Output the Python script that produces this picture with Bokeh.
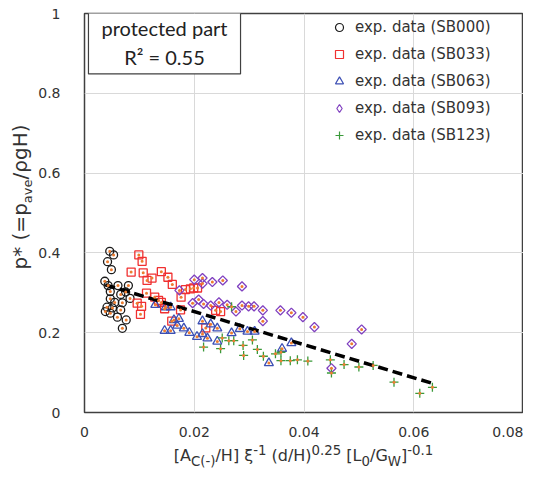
import numpy as np
from bokeh.plotting import figure
from bokeh.models import Range1d, Label, Legend, LegendItem, Div, FixedTicker
from bokeh.layouts import row, column
from bokeh.embed import file_html
from bokeh.resources import INLINE

# ---------------- data ----------------
sb000_x = [0.0046, 0.0053, 0.0042, 0.0049, 0.0037, 0.0043, 0.0061, 0.0080, 0.0047, 0.0066, 0.0075, 0.0083,
           0.0047, 0.0055, 0.0069, 0.0041, 0.0051, 0.0066, 0.0038, 0.0047, 0.0060, 0.0076, 0.0069]
sb000_y = [0.404, 0.395, 0.378, 0.358, 0.329, 0.318, 0.318, 0.318, 0.303, 0.296, 0.302, 0.286,
           0.285, 0.276, 0.275, 0.264, 0.262, 0.257, 0.253, 0.249, 0.239, 0.232, 0.211]

sb033_x = [0.0099, 0.0105, 0.0085, 0.0107, 0.0114, 0.0123, 0.0140, 0.0152, 0.0160, 0.0113, 0.0128, 0.0176,
           0.0184, 0.0193, 0.0199, 0.0206, 0.0096, 0.0104, 0.0102, 0.0135, 0.0146, 0.0175, 0.0159, 0.0221,
           0.0239, 0.0248, 0.0140]
sb033_y = [0.395, 0.379, 0.352, 0.350, 0.331, 0.337, 0.353, 0.339, 0.321, 0.299, 0.289, 0.289,
           0.308, 0.310, 0.312, 0.312, 0.274, 0.266, 0.246, 0.281, 0.260, 0.257, 0.229, 0.212,
           0.256, 0.253, 0.276]

sb063_x = [0.0129, 0.0148, 0.0157, 0.0163, 0.0172, 0.0146, 0.0157, 0.0169, 0.0181, 0.0191, 0.0215, 0.0230,
           0.0205, 0.0215, 0.0224, 0.0242, 0.0242, 0.0268, 0.0283, 0.0297, 0.0310, 0.0336, 0.0360, 0.0377]
sb063_y = [0.270, 0.264, 0.264, 0.232, 0.235, 0.205, 0.205, 0.218, 0.211, 0.200, 0.229, 0.221,
           0.190, 0.197, 0.186, 0.211, 0.178, 0.199, 0.210, 0.203, 0.203, 0.124, 0.160, 0.174]

sb093_x = [0.0173, 0.0200, 0.0215, 0.0215, 0.0233, 0.0252, 0.0287, 0.0197, 0.0208, 0.0217, 0.0230, 0.0245,
           0.0260, 0.0276, 0.0287, 0.0299, 0.0309, 0.0325, 0.0325, 0.0357, 0.0377, 0.0398, 0.0419, 0.0505,
           0.0487, 0.0450]
sb093_y = [0.306, 0.333, 0.337, 0.323, 0.327, 0.331, 0.316, 0.274, 0.283, 0.272, 0.268, 0.276,
           0.270, 0.253, 0.268, 0.266, 0.266, 0.256, 0.229, 0.256, 0.250, 0.239, 0.214, 0.208,
           0.172, 0.111]

sb123_x = [0.0268, 0.0251, 0.0263, 0.0272, 0.0217, 0.0248, 0.0289, 0.0306, 0.0290, 0.0315, 0.0326, 0.0348,
           0.0358, 0.0358, 0.0375, 0.0388, 0.0407, 0.0448, 0.0473, 0.0500, 0.0526, 0.0450, 0.0564, 0.0611,
           0.0634]
sb123_y = [0.265, 0.187, 0.180, 0.180, 0.164, 0.160, 0.168, 0.182, 0.143, 0.158, 0.141, 0.147,
           0.151, 0.130, 0.130, 0.132, 0.129, 0.132, 0.120, 0.114, 0.118, 0.099, 0.076, 0.048,
           0.063]

fit_x = [0.0038, 0.0634]
fit_y = [0.320, 0.073]

series_labels = ["exp. data (SB000)", "exp. data (SB033)", "exp. data (SB063)",
                 "exp. data (SB093)", "exp. data (SB123)"]
x_ticks = [0, 0.02, 0.04, 0.06, 0.08]
x_tick_labels = ["0", "0.02", "0.04", "0.06", "0.08"]
y_ticks = [0, 0.2, 0.4, 0.6, 0.8, 1.0]
y_tick_labels = ["0", "0.2", "0.4", "0.6", "0.8", "1"]
annotation_text = "protected part\nR² = 0.55"

# ---------------- figure ----------------
FONT = "DejaVu Sans"
TXT = "#333333"

p = figure(width=489, height=446, x_range=Range1d(0, 0.08), y_range=Range1d(0, 1),
           output_backend="svg", toolbar_location=None,
           min_border_left=50, min_border_right=0, min_border_top=13, min_border_bottom=34)
p.background_fill_color = "white"
p.border_fill_color = "white"
p.outline_line_color = "#404040"
p.outline_line_width = 1.5

for ax, ticks, labels in ((p.xaxis[0], x_ticks, x_tick_labels), (p.yaxis[0], y_ticks, y_tick_labels)):
    ax.ticker = FixedTicker(ticks=ticks)
    ax.major_label_overrides = {t: l for t, l in zip(ticks, labels)}
    ax.axis_line_color = None
    ax.major_tick_line_color = None
    ax.minor_tick_line_color = None
    ax.major_tick_out = 0
    ax.major_tick_in = 0
    ax.major_label_text_font = FONT
    ax.major_label_text_font_size = "14px"
    ax.major_label_text_color = TXT
p.xaxis.major_label_standoff = 14
p.yaxis.major_label_standoff = 24

p.xgrid.ticker = FixedTicker(ticks=x_ticks)
p.ygrid.ticker = FixedTicker(ticks=y_ticks)
p.grid.grid_line_color = "#d9d9d9"
p.grid.grid_line_width = 1

styles = [
    dict(marker="circle", color="#1a1a1a", size=8, angle=0.0, lmarker="circle", lsize=6),
    dict(marker="square", color="#f03030", size=8, angle=0.0, lmarker="square", lsize=6),
    dict(marker="triangle", color="#3c4fb4", size=9, angle=0.0, lmarker="triangle", lsize=7),
    dict(marker="square", color="#8040c0", size=6.5, angle=np.pi / 4, lmarker="diamond", lsize=8),
    dict(marker="cross", color="#3a9a3a", size=9, angle=0.0, lmarker="cross", lsize=7),
]
xs = [sb000_x, sb033_x, sb063_x, sb093_x, sb123_x]
ys = [sb000_y, sb033_y, sb063_y, sb093_y, sb123_y]

for x, y, st in zip(xs, ys, styles):
    p.scatter(x, y, marker=st["marker"], size=st["size"], angle=st["angle"],
              line_color=st["color"], fill_color=None, line_width=1.3)

p.line(fit_x, fit_y, line_color="black", line_width=3.5, line_dash="10 5")

all_x = sum(xs, [])
all_y = sum(ys, [])
p.scatter(all_x, all_y, marker="circle", size=3, line_color=None, fill_color="#ed7d31")

items = []
for lab, st in zip(series_labels, styles):
    r = p.scatter(x=[np.nan], y=[np.nan], marker=st["lmarker"], size=st["lsize"],
                  line_color=st["color"], fill_color=None, line_width=1.2)
    items.append(LegendItem(label=lab, renderers=[r]))

legend = Legend(items=items, location=(245, 267))
legend.background_fill_alpha = 0
legend.border_line_alpha = 0
legend.padding = 0
legend.margin = 0
legend.spacing = 7
legend.glyph_width = 20
legend.glyph_height = 20
legend.label_height = 20
legend.label_standoff = 6
legend.label_text_font = FONT
legend.label_text_font_size = "15px"
legend.label_text_color = TXT
p.add_layout(legend)

lbl = Label(x=80, y=370, x_units="screen", y_units="screen", text=annotation_text,
            text_align="center", text_baseline="middle", text_font="Lato",
            text_font_size="20px", text_color="#222222",
            border_line_color="#404040", border_line_width=1.2,
            background_fill_color="white", padding=(13, 5))
p.add_layout(lbl)

ydiv = Div(width=34, height=446, margin=0,
           text=("<div style=\"position:relative;width:34px;height:446px;\">"
                 "<div style=\"position:absolute;left:22px;top:197px;transform:translate(-50%,-50%) rotate(-90deg);"
                 "font-family:'DejaVu Sans';font-size:20px;color:#333;white-space:nowrap;\">"
                 "p* (=p<sub style=\"font-size:65%\">ave</sub>/ρgH)</div></div>"))
xdiv = Div(width=489, height=26, margin=0,
           text=("<div style=\"margin-left:50px;margin-top:-5px;width:439px;text-align:center;font-family:'DejaVu Sans';"
                 "font-size:16px;color:#333;white-space:nowrap;\">"
                 "[A<sub>C(-)</sub>/H] ξ<sup>-1</sup> (d/H)<sup>0.25</sup> [L<sub>0</sub>/G<sub>W</sub>]<sup>-0.1</sup></div>"))

layout = row(ydiv, column(p, xdiv, spacing=0), spacing=0)
open("out.html", "w").write(file_html(layout, INLINE))
